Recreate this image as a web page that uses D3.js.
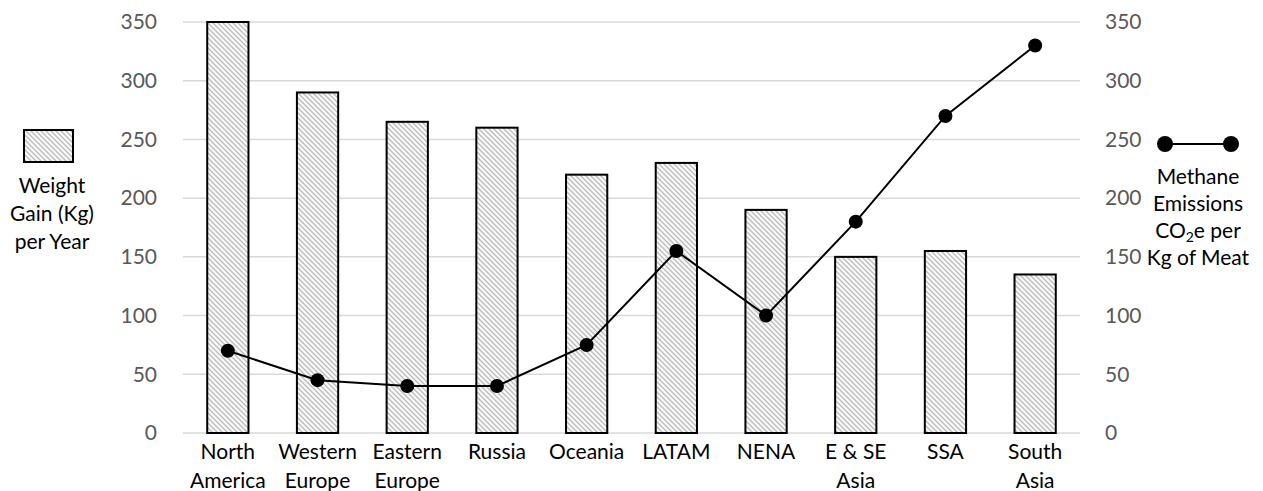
<!DOCTYPE html>
<html><head><meta charset="utf-8">
<script src="https://cdn.jsdelivr.net/npm/d3@7"></script>
<style>body{margin:0;background:#fff}svg{display:block}</style>
</head><body><svg id="c" width="1263" height="491"></svg>
<script>
const categories = [["North","America"],["Western","Europe"],["Eastern","Europe"],["Russia"],["Oceania"],["LATAM"],["NENA"],["E & SE","Asia"],["SSA"],["South","Asia"]];
const weightGain = [350,290,265,260,220,230,190,150,155,135];
const methane = [70,45,40,40,75,155,100,180,270,330];
const ticks = [0,50,100,150,200,250,300,350];

const svg = d3.select("#c");
const font = "Lato, 'Open Sans', sans-serif";
const x0 = 183, x1 = 1080, yTop = 22, yBot = 433;
const keys = categories.map((d,i)=>i);
const x = d3.scaleBand().domain(keys).range([x0,x1]).paddingInner(0.54).paddingOuter(0.27);
const yL = d3.scaleLinear().domain([0,350]).range([yBot,yTop]);
const yR = d3.scaleLinear().domain([0,350]).range([yBot,yTop]);

const defs = svg.append("defs");
const pat = defs.append("pattern").attr("id","hatch").attr("patternUnits","userSpaceOnUse")
  .attr("width",5).attr("height",5);
pat.append("rect").attr("width",5).attr("height",5).attr("fill","#f8f8f8");
pat.append("path").attr("d","M-1,-1 L6,6 M-1,4 L1,6 M4,-1 L6,1").attr("stroke","#bdbdbd").attr("stroke-width",1.3);

// gridlines
svg.append("g").selectAll("line").data(ticks).join("line")
  .attr("x1",x0).attr("x2",x1).attr("y1",d=>yL(d)).attr("y2",d=>yL(d))
  .attr("stroke","#d9d9d9").attr("stroke-width",1.5);

// left axis
const gl = svg.append("g").attr("transform",`translate(${x0},0)`)
  .call(d3.axisLeft(yL).tickValues(ticks).tickSize(0).tickPadding(26));
gl.select(".domain").remove();
gl.selectAll("text").attr("font-family",font).attr("font-size",21).attr("fill","#595959");

// right axis
const gr = svg.append("g").attr("transform",`translate(${x1},0)`)
  .call(d3.axisRight(yR).tickValues(ticks).tickSize(0).tickPadding(25));
gr.select(".domain").remove();
gr.selectAll("text").attr("font-family",font).attr("font-size",21).attr("fill","#595959");

// bars
svg.append("g").selectAll("rect").data(weightGain).join("rect")
  .attr("x",(d,i)=>x(i)).attr("width",x.bandwidth())
  .attr("y",d=>yL(d)).attr("height",d=>yL(0)-yL(d))
  .attr("fill","url(#hatch)").attr("stroke","#000").attr("stroke-width",2);

// category labels
const cl = svg.append("g").selectAll("text").data(categories).join("text")
  .attr("x",(d,i)=>x(i)+x.bandwidth()/2).attr("y",459)
  .attr("text-anchor","middle").attr("font-family",font).attr("font-size",21).attr("fill","#000");
cl.each(function(d){
  const t = d3.select(this);
  d.forEach((s,j)=>t.append("tspan").attr("x",t.attr("x")).attr("dy",j?29:0).text(s));
});

// line
const line = d3.line().x((d,i)=>x(i)+x.bandwidth()/2).y(d=>yR(d));
svg.append("path").datum(methane).attr("d",line).attr("fill","none").attr("stroke","#000").attr("stroke-width",2);
svg.append("g").selectAll("circle").data(methane).join("circle")
  .attr("cx",(d,i)=>x(i)+x.bandwidth()/2).attr("cy",d=>yR(d)).attr("r",7).attr("fill","#000");

// left legend
svg.append("rect").attr("x",24).attr("y",130).attr("width",49).attr("height",32)
  .attr("fill","url(#hatch)").attr("stroke","#000").attr("stroke-width",2);
const ll = svg.append("text").attr("text-anchor","middle").attr("font-family",font).attr("font-size",21).attr("fill","#000");
["Weight","Gain (Kg)","per Year"].forEach((s,j)=>ll.append("tspan").attr("x",52).attr("y",193+j*28).text(s));

// right legend
svg.append("line").attr("x1",1165).attr("x2",1231).attr("y1",144).attr("y2",144).attr("stroke","#000").attr("stroke-width",2);
svg.append("circle").attr("cx",1165).attr("cy",144).attr("r",8).attr("fill","#000");
svg.append("circle").attr("cx",1231).attr("cy",144).attr("r",8).attr("fill","#000");
const rl = svg.append("text").attr("text-anchor","middle").attr("font-family",font).attr("font-size",21).attr("fill","#000");
rl.append("tspan").attr("x",1198).attr("y",184).text("Methane");
rl.append("tspan").attr("x",1198).attr("y",211).text("Emissions");
const t3 = rl.append("tspan").attr("x",1198).attr("y",238);
t3.append("tspan").text("CO");
t3.append("tspan").attr("font-size",14).attr("dy",4).text("2");
t3.append("tspan").attr("dy",-4).text("e per");
rl.append("tspan").attr("x",1198).attr("y",265).text("Kg of Meat");
</script></body></html>
